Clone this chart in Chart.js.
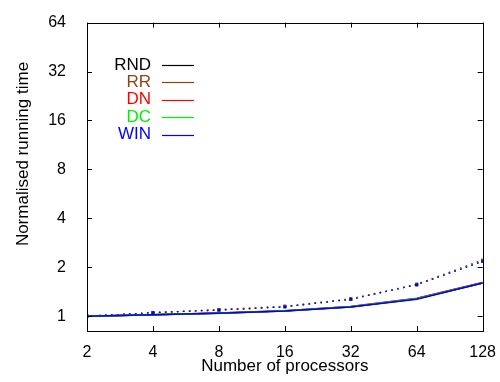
<!DOCTYPE html>
<html>
<head>
<meta charset="utf-8">
<script src="https://cdn.jsdelivr.net/npm/chart.js@4.4.0/dist/chart.umd.min.js"></script>
<style>
  html, body { margin: 0; padding: 0; background: #fff; }
  #wrap { width: 500px; height: 382px; }
</style>
</head>
<body>
<div id="wrap"><canvas id="runChart" width="500" height="382"></canvas></div>
<script>
// processors on x, normalised running time on y
const procs = [2, 4, 8, 16, 32, 64, 128];
const xTicks = [2, 4, 8, 16, 32, 64, 128];
const yTicks = [1, 2, 4, 8, 16, 32, 64];

const names = ['RND', 'RR', 'DN', 'DC', 'WIN'];
const colors = ['#000000', '#8b4513', '#ff0000', '#00ee00', '#0000ff'];

// solid curves
const rnd = [1, 1.02, 1.04, 1.075, 1.14, 1.28, 1.60];
const rr  = [1, 1.02, 1.045, 1.08, 1.145, 1.29, 1.61];
const dn  = [1, 1.02, 1.045, 1.08, 1.145, 1.285, 1.61];
const dc  = [1, 1.02, 1.04, 1.078, 1.142, 1.28, 1.60];
const win = [1, 1.02, 1.04, 1.075, 1.14, 1.27, 1.60];

// dotted curves
const rndDot = [1, 1.05, 1.09, 1.14, 1.27, 1.56, 2.18];
const rrDot  = [1, 1.05, 1.09, 1.15, 1.27, 1.57, 2.20];
const dnDot  = [1, 1.05, 1.10, 1.15, 1.28, 1.57, 2.22];
const dcDot  = [1, 1.05, 1.09, 1.14, 1.27, 1.56, 2.18];
const winDot = [1, 1.05, 1.09, 1.14, 1.27, 1.56, 2.17];

const solid = [rnd, rr, dn, dc, win];
const dotted = [rndDot, rrDot, dnDot, dcDot, winDot];

const FONT = '"Liberation Sans", Arial, sans-serif';

function toPoints(vals) {
    return procs.map((p, i) => ({ x: p, y: vals[i] }));
}

// later datasets drawn on top (order decreasing)
const datasets = [];
let ord = 100;
dotted.forEach((vals, i) => {
    datasets.push({
        label: names[i] + ' dotted',
        data: toPoints(vals),
        borderColor: colors[i],
        backgroundColor: colors[i],
        borderWidth: 1.2,
        borderDash: [1.5, 4.5],
        pointRadius: 1.2,
        pointStyle: 'rect',
        order: ord--,
        inLegend: false
    });
});
solid.forEach((vals, i) => {
    datasets.push({
        label: names[i],
        data: toPoints(vals),
        borderColor: colors[i],
        backgroundColor: colors[i],
        borderWidth: 1.5,
        pointRadius: 0,
        order: ord--,
        inLegend: true
    });
});

// gnuplot-like frame, inward ticks, titles and key
const framePlugin = {
    id: 'frame',
    afterDraw(chart) {
        const ctx = chart.ctx;
        const a = chart.chartArea;
        const xs = chart.scales.x, ys = chart.scales.y;
        ctx.save();
        ctx.strokeStyle = '#000';
        ctx.lineWidth = 1;
        ctx.strokeRect(Math.round(a.left) + 0.5, Math.round(a.top) + 0.5,
            Math.round(a.right - a.left), Math.round(a.bottom - a.top));
        ctx.beginPath();
        xTicks.forEach(v => {
            const px = Math.round(xs.getPixelForValue(v)) + 0.5;
            ctx.moveTo(px, a.bottom); ctx.lineTo(px, a.bottom - 5);
            ctx.moveTo(px, a.top); ctx.lineTo(px, a.top + 5);
        });
        yTicks.forEach(v => {
            const py = Math.round(ys.getPixelForValue(v)) + 0.5;
            ctx.moveTo(a.left, py); ctx.lineTo(a.left + 5, py);
            ctx.moveTo(a.right, py); ctx.lineTo(a.right - 5, py);
        });
        ctx.stroke();

        // axis titles
        ctx.fillStyle = '#000';
        ctx.font = '17px ' + FONT;
        ctx.textAlign = 'center';
        ctx.textBaseline = 'middle';
        ctx.fillText('Number of processors', (a.left + a.right) / 2, 366);
        ctx.save();
        ctx.translate(23, 154);
        ctx.rotate(-Math.PI / 2);
        ctx.fillText('Normalised running time', 0, 0);
        ctx.restore();

        // key
        let row = 0;
        chart.data.datasets.forEach(ds => {
            if (!ds.inLegend) return;
            const y = 65 + row * 17.4;
            ctx.fillStyle = ds.borderColor;
            ctx.textAlign = 'right';
            ctx.fillText(ds.label, 151, y);
            ctx.strokeStyle = ds.borderColor;
            ctx.lineWidth = 1.2;
            ctx.beginPath();
            ctx.moveTo(162, Math.round(y) + 0.5);
            ctx.lineTo(194, Math.round(y) + 0.5);
            ctx.stroke();
            row++;
        });
        ctx.restore();
    }
};

new Chart(document.getElementById('runChart').getContext('2d'), {
    type: 'line',
    data: { datasets: datasets },
    options: {
        responsive: false,
        animation: false,
        layout: { padding: { top: 15, right: 16, left: 0, bottom: 0 } },
        plugins: { legend: { display: false }, tooltip: { enabled: false } },
        scales: {
            x: {
                type: 'logarithmic',
                min: 2,
                max: 128,
                grid: { display: false },
                border: { display: false },
                afterBuildTicks: s => { s.ticks = xTicks.map(v => ({ value: v })); },
                afterFit: s => { s.height = 51; },
                ticks: {
                    color: '#000',
                    font: { family: FONT, size: 16 },
                    padding: 4,
                    maxRotation: 0,
                    autoSkip: false,
                    callback: v => String(v)
                }
            },
            y: {
                type: 'logarithmic',
                min: 0.81,
                max: 64,
                grid: { display: false },
                border: { display: false },
                afterBuildTicks: s => { s.ticks = yTicks.map(v => ({ value: v })); },
                afterFit: s => { s.width = 87; },
                ticks: {
                    color: '#000',
                    font: { family: FONT, size: 16 },
                    padding: 13,
                    autoSkip: false,
                    callback: v => String(v)
                }
            }
        }
    },
    plugins: [framePlugin]
});
</script>
</body>
</html>
